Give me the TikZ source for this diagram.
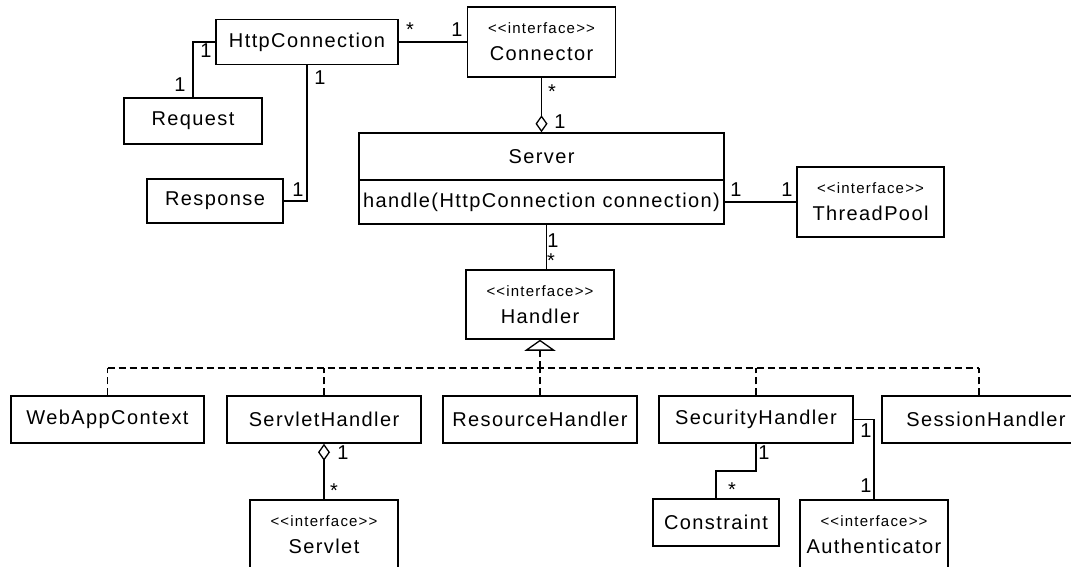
\documentclass[tikz,border=0pt]{standalone}
\usepackage{fontspec}
\setmainfont{Liberation Sans}[LetterSpace=7]
\newfontfamily\stereofont{Liberation Sans}[LetterSpace=8]
\usetikzlibrary{arrows.meta,calc}

\newcommand{\iface}[1]{{\stereofont\fontsize{15}{15}\selectfont <<interface>>}\\[3pt]#1}

\begin{document}
\begin{tikzpicture}[x=1pt,y=-1pt]
\tikzset{
  classnode/.style={rectangle,draw,line width=1.5pt,inner sep=0pt,align=center,font=\fontsize{20}{24}\selectfont},
  mult/.style={inner sep=0pt,anchor=base,font=\fontsize{20}{24}\selectfont},
  assoc/.style={line width=1.5pt},
  aggr/.style={line width=1.5pt,{Diamond[open,length=17pt,width=12pt,line width=1.3pt]}-},
  realize/.style={line width=1.6pt,dash pattern=on 7pt off 4pt},
  realtip/.style={realize,-{Triangle[open,length=11pt,width=31pt,line width=1.3pt]}}
}
\clip (0,0) rectangle (1071,567);
\node[classnode,minimum width=182,minimum height=45] (n_http) at (307,42) {HttpConnection};
\node[classnode,minimum width=148,minimum height=70] (n_connector) at (541.5,42) {\iface{Connector}};
\node[classnode,minimum width=138,minimum height=46] (n_request) at (193,121) {Request};
\node[classnode,minimum width=136,minimum height=44] (n_response) at (215,201) {Response};
\node[classnode,minimum width=365,minimum height=47] (n_server) at (541.5,156.5) {Server};
\node[classnode,minimum width=365,minimum height=44] (n_serverop) at (541.5,202) {handle(HttpConnection connection)};
\node[classnode,minimum width=147,minimum height=70] (n_threadpool) at (870.5,202) {\iface{ThreadPool}};
\node[classnode,minimum width=148,minimum height=69] (n_handler) at (540,304.5) {\iface{Handler}};
\node[classnode,minimum width=193,minimum height=47] (n_webapp) at (107.5,419.5) {WebAppContext};
\node[classnode,minimum width=194,minimum height=47] (n_servleth) at (324,419.5) {ServletHandler};
\node[classnode,minimum width=194,minimum height=47] (n_resource) at (540,419.5) {ResourceHandler};
\node[classnode,minimum width=194,minimum height=47] (n_security) at (756,419.5) {SecurityHandler};
\node[classnode,minimum width=208,minimum height=47] (n_session) at (986,419.5) {SessionHandler};
\node[classnode,minimum width=148,minimum height=70] (n_servlet) at (324,535) {\iface{Servlet}};
\node[classnode,minimum width=126,minimum height=47] (n_constraint) at (716,522.5) {Constraint};
\node[classnode,minimum width=148,minimum height=70] (n_auth) at (874,535) {\iface{Authenticator}};
\coordinate (c_bus) at (540,368);
% associations
\draw[assoc] (n_http) -- (n_connector);
\draw[assoc] (n_http.west) -| (n_request.north);
\draw[assoc] (n_http.south) |- (n_response.east);
\draw[aggr] (n_server.north) -- (n_connector.south);
\draw[assoc] (n_serverop) -- (n_threadpool);
\draw[assoc] ([xshift=5pt]n_serverop.south) -- ([xshift=5pt]n_serverop.south |- n_handler.north);
\draw[aggr] (n_servleth.south) -- (n_servlet.north);
\draw[assoc] (n_security.south) |- ($(n_security.south)!.5!(n_constraint.north)$) -| (n_constraint.north);
\draw[assoc] (n_security.east) -| (n_auth.north);
% realizations of Handler
\draw[realtip] (c_bus) -- (n_handler.south);
\draw[realize,line width=2.2pt] (n_webapp.north |- c_bus) -- ([xshift=-7pt]n_session.north |- c_bus);
\draw[realize] (n_webapp.north) -- (n_webapp.north |- c_bus);
\draw[realize] (n_servleth.north) -- (n_servleth.north |- c_bus);
\draw[realize] (n_resource.north) -- (n_resource.north |- c_bus);
\draw[realize] (n_security.north) -- (n_security.north |- c_bus);
\draw[realize] ([xshift=-7pt]n_session.north) -- ([xshift=-7pt]n_session.north |- c_bus);
% multiplicities
\node[mult] (m_http_conn) at (410,37) {*};
\node[mult] (m_conn_http) at (457,37) {1};
\node[mult] (m_http_req) at (206,58) {1};
\node[mult] (m_req_http) at (180,92) {1};
\node[mult] (m_http_resp) at (320,85) {1};
\node[mult] (m_resp_http) at (298,196) {1};
\node[mult] (m_conn_srv) at (552,99) {*};
\node[mult] (m_srv_conn) at (560,129) {1};
\node[mult] (m_srv_tp) at (736,196) {1};
\node[mult] (m_tp_srv) at (787,196) {1};
\node[mult] (m_srv_hdl) at (553,247) {1};
\node[mult] (m_hdl_srv) at (551,267) {*};
\node[mult] (m_sh_svl) at (343,459) {1};
\node[mult] (m_svl_sh) at (334,497) {*};
\node[mult] (m_sec_con) at (764,459) {1};
\node[mult] (m_con_sec) at (732,496) {*};
\node[mult] (m_sec_auth) at (866,437) {1};
\node[mult] (m_auth_sec) at (866,492) {1};
\end{tikzpicture}
\end{document}
